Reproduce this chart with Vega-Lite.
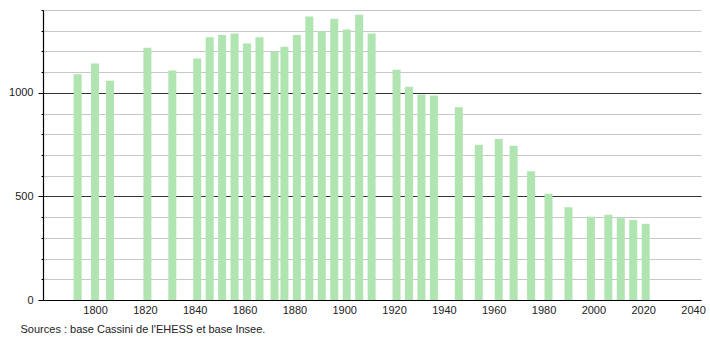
{
  "$schema": "https://vega.github.io/schema/vega-lite/v6.json",
  "width": 658,
  "height": 290,
  "autosize": {"type": "none"},
  "padding": {"left": 43, "top": 10, "right": 9, "bottom": 40},
  "background": "white",
  "config": {
    "view": {"stroke": null},
    "font": "Liberation Sans",
    "axis": {"labelFont": "Liberation Sans", "labelFontSize": 11, "labelColor": "#222", "domainColor": "#000", "tickColor": "#000"}
  },
  "title": {
    "text": "Sources : base Cassini de l'EHESS et base Insee.",
    "orient": "bottom",
    "anchor": "start",
    "dx": 12,
    "offset": 9,
    "fontSize": 11,
    "fontWeight": "normal",
    "color": "#222",
    "font": "Liberation Sans"
  },
  "data": {
    "values": [
      {"year": 1793, "pop": 1090},
      {"year": 1800, "pop": 1142},
      {"year": 1806, "pop": 1059},
      {"year": 1821, "pop": 1218},
      {"year": 1831, "pop": 1108},
      {"year": 1841, "pop": 1166},
      {"year": 1846, "pop": 1268},
      {"year": 1851, "pop": 1279},
      {"year": 1856, "pop": 1287},
      {"year": 1861, "pop": 1238},
      {"year": 1866, "pop": 1268},
      {"year": 1872, "pop": 1198},
      {"year": 1876, "pop": 1222},
      {"year": 1881, "pop": 1279},
      {"year": 1886, "pop": 1369},
      {"year": 1891, "pop": 1298},
      {"year": 1896, "pop": 1358},
      {"year": 1901, "pop": 1306},
      {"year": 1906, "pop": 1377},
      {"year": 1911, "pop": 1287},
      {"year": 1921, "pop": 1111},
      {"year": 1926, "pop": 1029},
      {"year": 1931, "pop": 992},
      {"year": 1936, "pop": 987},
      {"year": 1946, "pop": 930},
      {"year": 1954, "pop": 750},
      {"year": 1962, "pop": 777},
      {"year": 1968, "pop": 745},
      {"year": 1975, "pop": 621},
      {"year": 1982, "pop": 513},
      {"year": 1990, "pop": 448},
      {"year": 1999, "pop": 402},
      {"year": 2006, "pop": 411},
      {"year": 2011, "pop": 395},
      {"year": 2016, "pop": 386},
      {"year": 2021, "pop": 368}
    ]
  },
  "mark": {"type": "bar", "width": 8, "color": "#b0e4b0"},
  "encoding": {
    "x": {
      "field": "year", "type": "quantitative",
      "scale": {"domain": [1779.1, 2043.2], "nice": false, "zero": false, "padding": 0},
      "axis": {"title": null, "values": [1800, 1820, 1840, 1860, 1880, 1900, 1920, 1940, 1960, 1980, 2000, 2020, 2040], "format": "d", "ticks": false, "grid": false, "labelPadding": 4, "domainWidth": 1.2}
    },
    "y": {
      "field": "pop", "type": "quantitative",
      "scale": {"domain": [0, 1400], "nice": false},
      "axis": {
        "title": null,
        "values": [0, 100, 200, 300, 400, 500, 600, 700, 800, 900, 1000, 1100, 1200, 1300, 1400],
        "format": "d",
        "labelExpr": "datum.value % 500 === 0 ? datum.label : ''",
        "labelPadding": 5,
        "tickSize": {"condition": {"test": "datum.value % 500 === 0", "value": 5}, "value": 2},
        "grid": true,
        "gridColor": {"condition": {"test": "datum.value % 500 === 0 && datum.value > 0", "value": "#333"}, "value": "#c8c8c8"},
        "gridWidth": 1,
        "domainWidth": 1.2
      }
    }
  }
}
